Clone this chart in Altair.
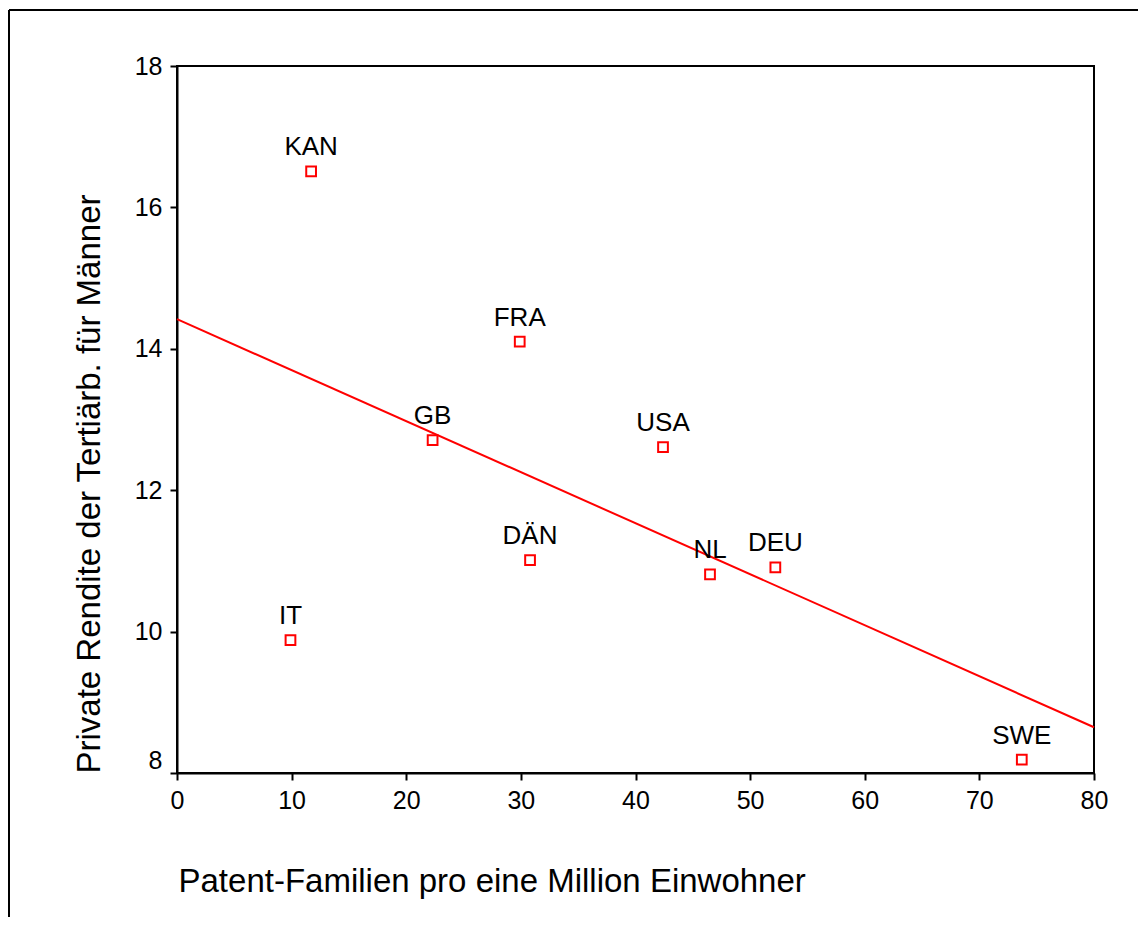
import altair as alt
import pandas as pd

countries = ["KAN", "FRA", "GB", "USA", "DÄN", "NL", "DEU", "IT", "SWE"]
patents = [11.7, 29.9, 22.3, 42.4, 30.8, 46.5, 52.2, 9.9, 73.7]
returns = [16.51, 14.10, 12.71, 12.61, 11.01, 10.81, 10.91, 9.88, 8.19]
x_ticks = [0, 10, 20, 30, 40, 50, 60, 70, 80]
y_ticks = [8, 10, 12, 14, 16, 18]
x_title = "Patent-Familien pro eine Million Einwohner"
y_title = "Private Rendite der Tertiärb. für Männer"

df = pd.DataFrame({"land": countries, "patente": patents, "rendite": returns})

FONT = "Liberation Sans"
W, H = 917, 707

x_enc = alt.X(
    "patente:Q",
    scale=alt.Scale(domain=[0, 80], nice=False, zero=False),
    axis=alt.Axis(
        values=x_ticks, format="d", labelFlush=False, labelFontSize=25,
        title=x_title, titleAnchor="start", titleAlign="left",
        titleBaseline="alphabetic", titleX=1, titleY=118,
    ),
)
y_enc = alt.Y(
    "rendite:Q",
    scale=alt.Scale(domain=[8, 18], nice=False, zero=False),
    axis=alt.Axis(
        values=y_ticks, format="d", labelFlush=False, labelFontSize=25,
        title=y_title, titleAnchor="start", titleAlign="left",
        titleBaseline="alphabetic", titleAngle=270, titleX=-78, titleY=H,
        labelBaseline={"condition": {"test": "datum.value == 8", "value": "bottom"}, "value": "middle"},
    ),
)

base = alt.Chart(df)

points = base.mark_point(
    shape="square", size=95, filled=False, color="#ff0000", strokeWidth=2, opacity=1
).encode(x=x_enc, y=y_enc)

labels = base.mark_text(
    dy=-16, baseline="alphabetic", align="center", fontSize=26, font=FONT, color="black"
).encode(x="patente:Q", y="rendite:Q", text="land:N")

fit = base.transform_regression(
    "patente", "rendite", extent=[0, 80]
).mark_line(color="#ff0000", strokeWidth=2).encode(x="patente:Q", y="rendite:Q")

frame_data = alt.Data(values=[{"k": 1}])
frame_left = alt.Chart(frame_data).mark_rule(color="black", strokeWidth=2).encode(
    x=alt.value(-168), y=alt.value(-56), y2=alt.value(1000)
)
frame_top = alt.Chart(frame_data).mark_rule(color="black", strokeWidth=2).encode(
    x=alt.value(-168), x2=alt.value(2000), y=alt.value(-56)
)

chart = alt.layer(fit, points, labels, frame_left, frame_top).properties(
    width=W, height=H,
    autosize=alt.AutoSizeParams(type="none"),
    padding={"left": 169, "top": 58, "right": 44, "bottom": 144},
    background="white",
).configure_view(
    stroke="black", strokeWidth=2
).configure_axis(
    grid=False, domainColor="black", domainWidth=2, tickColor="black", tickWidth=2,
    tickSize=7, labelColor="black", labelFont=FONT, labelPadding=8,
    titleFontSize=33, titleFontWeight="normal", titleColor="black", titleFont=FONT,
)

chart.save("out.html", embed_options={"renderer": "svg", "actions": False})
